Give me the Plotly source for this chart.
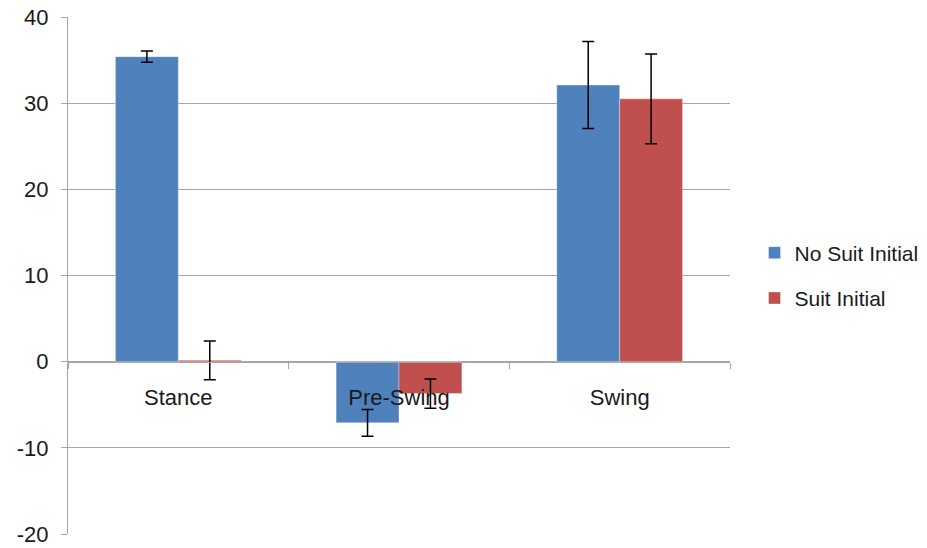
import plotly.graph_objects as go

categories = ["Stance", "Pre-Swing", "Swing"]
no_suit = [35.4, -7.1, 32.1]
no_suit_err = [0.65, 1.55, 5.05]
suit = [0.15, -3.7, 30.5]
suit_err = [2.25, 1.7, 5.2]
y_ticks = [-20, -10, 0, 10, 20, 30, 40]
y_tick_text = ["-20", "-10", "0", "10", "20", "30", "40"]

FONT = "Liberation Sans, Arial, sans-serif"
GRID = "#A6A6A6"

fig = go.Figure()
fig.add_trace(go.Bar(
    x=categories, y=no_suit, name="No Suit Initial",
    marker=dict(color="#4F81BD", line=dict(color="rgba(255,255,255,0.35)", width=1)),
    error_y=dict(type="data", array=no_suit_err, color="black", thickness=1.5, width=6),
    legendgroup="a",
))
fig.add_trace(go.Bar(
    x=categories, y=suit, name="Suit Initial",
    marker=dict(color="#C0504D", line=dict(color="rgba(255,255,255,0.35)", width=1)),
    error_y=dict(type="data", array=suit_err, color="black", thickness=1.5, width=6),
    legendgroup="b",
))

fig.update_layout(
    width=927, height=548,
    margin=dict(l=68, r=197, t=17, b=14, autoexpand=False),
    plot_bgcolor="white", paper_bgcolor="white",
    barmode="group", bargap=0.43, bargroupgap=0,
    font=dict(family=FONT, size=22, color="#1a1a1a"),
    legend=dict(x=1.037, xanchor="left", y=0.5, yanchor="middle",
                tracegroupgap=15, font=dict(size=21)),
    showlegend=True,
)
fig.update_yaxes(
    range=[-20, 40], tickvals=y_ticks, ticktext=y_tick_text, domain=[0, 1],
    showgrid=True, gridcolor=GRID, gridwidth=1,
    showline=True, linecolor=GRID, linewidth=1,
    ticks="outside", ticklen=6, tickcolor=GRID,
    zeroline=False, automargin=False, ticklabelstandoff=8,
)
fig.update_xaxes(
    anchor="free", position=(0 - (-20)) / 60,
    showline=True, linecolor=GRID, linewidth=1,
    ticks="outside", ticklen=6, tickcolor=GRID, tickson="boundaries",
    showgrid=False, automargin=False, ticklabelstandoff=16,
)
fig.write_html(
    "out.html",
    config={"displayModeBar": False},
    post_script="document.body.style.margin='0';document.body.style.overflow='hidden';",
)
